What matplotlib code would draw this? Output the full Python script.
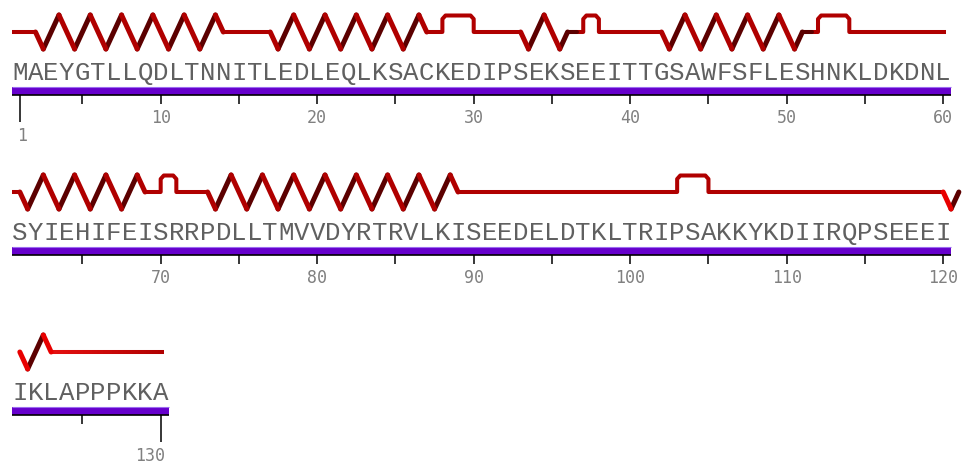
import numpy as np
import matplotlib.pyplot as plt
from matplotlib.collections import LineCollection

# chain sequence, one letter per residue
sequence = ("MAEYGTLLQDLTNNITLEDLEQLKSACKEDIPSEKSEEITTGSAWFSFLESHNKLDKDNL"
            "SYIEHIFEISRRPDLLTMVVDYRTRVLKISEEDELDTKLTRIPSAKKYKDIIRQPSEEEI"
            "IKLAPPPKKA")

# secondary structure (start, end residue)
helix_start = [2, 17, 33, 42, 61, 73, 120]
helix_end = [14, 27, 36, 51, 69, 89, 123]
turn_start = [28, 37, 52, 70, 103]
turn_end = [30, 38, 54, 71, 105]

per_row = 60
n_res = len(sequence)
row_rows = [(1, 60), (61, 120), (121, 130)]
row_step = 160

RED = "#b00000"
DARK = "#5c0000"
BRIGHT = "#e80000"

fig = plt.figure(figsize=(9.67, 4.67), dpi=100)
ax = fig.add_axes([0, 0, 1, 1])
ax.set_xlim(-0.267, 61.52)
ax.set_ylim(467, 0)
ax.axis("off")


def helix_wave(ax, s, e, mid, amp, fall_col, rise_col):
    # zigzag, period of two residues, going down first
    xs = [s, s + 0.5]
    ys = [0, 1]
    x = s + 0.5
    sign = 1
    while x + 1 < e + 1e-6:
        x += 1
        sign = -sign
        xs.append(x)
        ys.append(sign)
    if xs[-1] < e - 1e-6:
        xs.append(e)
        ys.append(0)
    pts = np.column_stack([xs, mid + amp * np.array(ys)])
    rise, fall = [], []
    for a, b in zip(pts[:-1], pts[1:]):
        (rise if b[1] < a[1] else fall).append([a, b])
    ax.add_collection(LineCollection(rise, colors=rise_col, linewidths=3.6,
                                     capstyle="round", joinstyle="round", zorder=3))
    ax.add_collection(LineCollection(fall, colors=fall_col, linewidths=3.6,
                                     capstyle="round", joinstyle="round", zorder=4))
    return ys[-2] > 0  # last stroke comes up from a trough


for r, (lo, hi) in enumerate(row_rows):
    off = r * row_step
    shift = r * per_row
    mid = off + 32
    row_a, row_b = lo - 0.5, hi + 0.2

    # elements in this row
    blocks = []
    for s, e in zip(helix_start, helix_end):
        if e < lo or s > hi:
            continue
        ws, we = max(s, lo), min(e, hi + 1)
        fc = BRIGHT if s >= 120 else RED
        rising_end = helix_wave(ax, ws - shift, we - shift, mid, 17, fc, DARK)
        if rising_end and e <= hi:
            ax.plot([we - shift, we - shift + 0.6], [mid, mid], color=DARK,
                    lw=2.9, solid_capstyle="round", zorder=3)
        blocks.append((max(s, row_a), min(e, hi + 1)))
    for s, e in zip(turn_start, turn_end):
        if e < lo or s > hi:
            continue
        xs = np.array([s, s, s + 0.2, e - 0.2, e, e]) - shift
        ys = [mid, mid - 13, mid - 16.5, mid - 16.5, mid - 13, mid]
        ax.plot(xs, ys, color=RED, lw=2.9, solid_joinstyle="round",
                solid_capstyle="round", zorder=3)
        blocks.append((s, e))

    # loop pieces between the elements
    blocks.sort()
    cur = row_a
    pieces = []
    for s, e in blocks:
        if s > cur:
            pieces.append((cur, s))
        cur = max(cur, e)
    if cur < row_b:
        pieces.append((cur, row_b))
    for a, b in pieces:
        if r == 2:
            xs = np.linspace(a, b, 40) - shift
            seg = [[(xs[i], mid), (xs[i + 1], mid)] for i in range(len(xs) - 1)]
            cols = [plt.matplotlib.colors.to_rgb(c) for c in ("#e41010", "#b00000")]
            t = np.linspace(0, 1, len(seg))[:, None]
            colors = (1 - t) * np.array(cols[0]) + t * np.array(cols[1])
            ax.add_collection(LineCollection(seg, colors=colors, linewidths=2.9,
                                             capstyle="butt", zorder=2))
        else:
            ax.plot([a - shift, b - shift], [mid, mid], color=RED, lw=2.9,
                    solid_capstyle="butt", zorder=2)

    # sequence letters
    for i in range(lo, hi + 1):
        ax.text(i - shift, off + 80, sequence[i - 1], ha="center", va="baseline",
                fontsize=18.5, family="Liberation Mono", color="#606060")

    # purple residue bar and ruler
    ax.broken_barh([(lo - 0.5 - shift, hi - lo + 1)], (off + 86.5, 8),
                   facecolors="#6600cc", zorder=2)
    ax.hlines(off + 87, lo - 0.5 - shift, hi + 0.5 - shift, color="#9c6cf0",
              lw=0.8, zorder=3)
    ax.hlines(off + 95, lo - 0.5 - shift, hi + 0.5 - shift, color="black",
              lw=1.2, zorder=3)
    for i in range(lo, hi + 1):
        end = i == 1 or i == n_res
        if i % 5 and not end:
            continue
        ax.vlines(i - shift, off + 95, off + (122 if end else 104),
                  color="black", lw=1.1)
        if end:
            ha = "left" if i == 1 else "right"
            dx = -0.15 if i == 1 else 0.3
            ax.text(i - shift + dx, off + 141, str(i), ha=ha, va="baseline",
                    fontsize=12, family="DejaVu Sans Mono", color="#808080")
        elif i % 10 == 0:
            ax.text(i - shift, off + 123, str(i), ha="center", va="baseline",
                    fontsize=12, family="DejaVu Sans Mono", color="#808080")

fig.savefig("out.png", dpi=100)
